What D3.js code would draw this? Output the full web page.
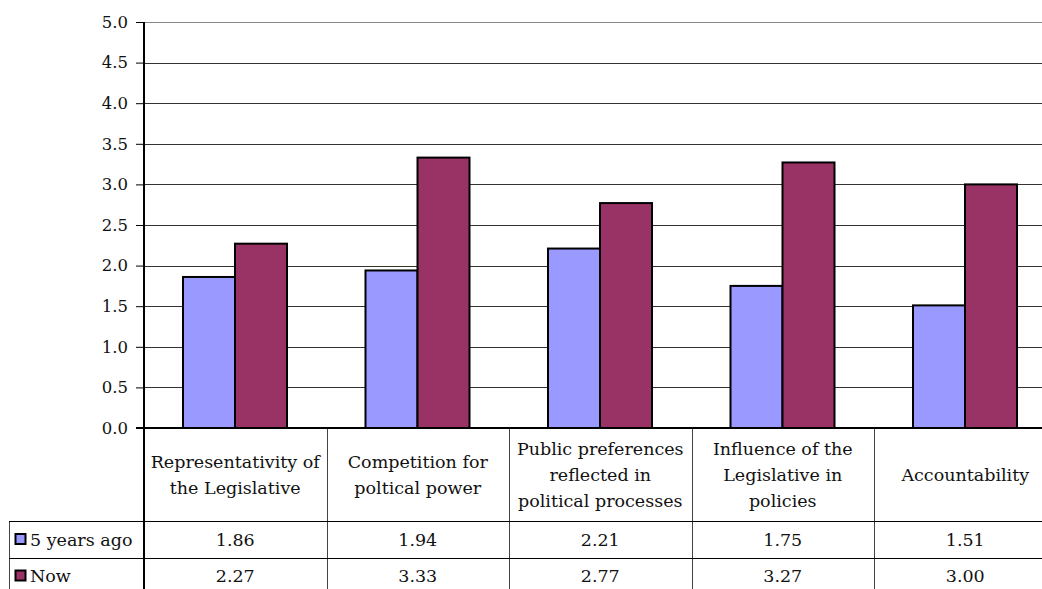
<!DOCTYPE html>
<html>
<head>
<meta charset="utf-8">
<script src="https://cdn.jsdelivr.net/npm/d3@7"></script>
<style>
  body { margin: 0; background: #fff; }
  svg { display: block; }
</style>
</head>
<body>
<script>
const categories = [
  ["Representativity of", "the Legislative"],
  ["Competition for", "poltical power"],
  ["Public preferences", "reflected in", "political processes"],
  ["Influence of the", "Legislative in", "policies"],
  ["Accountability"]
];
const seriesNames = ["5 years ago", "Now"];
const fiveYearsAgo = [1.86, 1.94, 2.21, 1.75, 1.51];
const now = [2.27, 3.33, 2.77, 3.27, 3.00];
const yTicks = [0, 0.5, 1, 1.5, 2, 2.5, 3, 3.5, 4, 4.5, 5];

const width = 1042, height = 589;
const M = { left: 144, top: 22, axisY: 428 };
const CAT_W = 182.5;
const HEADER_BOTTOM = 521, ROW1_BOTTOM = 558;
const TABLE_LEFT = 9;
const FONT = "'Palatino Linotype', 'Book Antiqua', Palatino, 'DejaVu Serif', serif";
const TABLE_FONT_SIZE = 17.5;
const COLORS = ["#9999FF", "#993366"];

const series = [fiveYearsAgo, now];
const idx = d3.range(categories.length);

const svg = d3.select("body").append("svg")
  .attr("width", width)
  .attr("height", height)
  .style("font-family", FONT);

const x0 = d3.scaleBand()
  .domain(idx)
  .range([M.left, M.left + CAT_W * categories.length]);

const x1 = d3.scaleBand()
  .domain(d3.range(series.length))
  .range([39, 39 + 104]);

const y = d3.scaleLinear()
  .domain([0, 5])
  .range([M.axisY, M.top]);

// gridlines
svg.append("g")
  .selectAll("line")
  .data(yTicks.filter(d => d > 0))
  .join("line")
  .attr("x1", M.left)
  .attr("x2", width)
  .attr("y1", d => Math.round(y(d)) + 0.5)
  .attr("y2", d => Math.round(y(d)) + 0.5)
  .attr("stroke", d => d === 5 ? "#888" : "#333")
  .attr("stroke-width", 1);

// bars
svg.append("g")
  .selectAll("g")
  .data(series)
  .join("g")
  .attr("fill", (d, i) => COLORS[i])
  .selectAll("rect")
  .data((vals, si) => vals.map((v, ci) => ({ v, ci, si })))
  .join("rect")
  .attr("x", d => x0(d.ci) + x1(d.si))
  .attr("y", d => y(d.v))
  .attr("width", x1.bandwidth())
  .attr("height", d => y(0) - y(d.v))
  .attr("stroke", "#000")
  .attr("stroke-width", 2);

// y axis
const yAxis = d3.axisLeft(y)
  .tickValues(yTicks)
  .tickFormat(d3.format(".1f"))
  .tickSizeInner(8)
  .tickSizeOuter(0)
  .tickPadding(8);

const yAxisGroup = svg.append("g")
  .attr("transform", `translate(${M.left},0)`)
  .call(yAxis);
yAxisGroup.select(".domain").remove();
yAxisGroup.selectAll(".tick line").attr("stroke", "#000");
yAxisGroup.selectAll(".tick text")
  .attr("fill", "#111")
  .style("font-family", FONT)
  .style("font-size", "16.5px");

// table lines
const tbl = svg.append("g").attr("stroke", "#000").attr("stroke-width", 1);
const colEdges = idx.map(i => x0(i)).concat([x0.range()[1]]);
tbl.selectAll("line.v")
  .data(colEdges.slice(1))
  .join("line")
  .attr("class", "v")
  .attr("x1", d => Math.round(d) + 0.5)
  .attr("x2", d => Math.round(d) + 0.5)
  .attr("y1", M.axisY)
  .attr("y2", height)
  .attr("stroke", "#444");
tbl.append("line")
  .attr("x1", TABLE_LEFT + 0.5).attr("x2", TABLE_LEFT + 0.5)
  .attr("y1", HEADER_BOTTOM).attr("y2", height)
  .attr("stroke", "#444");
tbl.selectAll("line.h")
  .data([HEADER_BOTTOM, ROW1_BOTTOM])
  .join("line")
  .attr("class", "h")
  .attr("x1", TABLE_LEFT)
  .attr("x2", width)
  .attr("y1", d => d + 0.5)
  .attr("y2", d => d + 0.5);

// y axis line + x axis line
svg.append("line")
  .attr("x1", M.left).attr("x2", M.left)
  .attr("y1", M.top).attr("y2", height)
  .attr("stroke", "#000").attr("stroke-width", 2);
svg.append("line")
  .attr("x1", M.left - 8).attr("x2", width)
  .attr("y1", y(0)).attr("y2", y(0))
  .attr("stroke", "#000").attr("stroke-width", 2);

// category headers
const LINE_H = 26;
const headerMid = (M.axisY + HEADER_BOTTOM) / 2;
svg.append("g")
  .selectAll("text")
  .data(categories)
  .join("text")
  .attr("text-anchor", "middle")
  .attr("font-size", TABLE_FONT_SIZE)
  .attr("fill", "#111")
  .each(function (lines, i) {
    const t = d3.select(this);
    const cx = x0(i) + x0.bandwidth() / 2;
    const top = headerMid - (lines.length - 1) * LINE_H / 2;
    lines.forEach((ln, k) => {
      t.append("tspan")
        .attr("x", cx)
        .attr("y", top + k * LINE_H)
        .attr("dy", "0.35em")
        .text(ln);
    });
  });

// data rows
const rowMids = [(HEADER_BOTTOM + ROW1_BOTTOM) / 2, ROW1_BOTTOM + 18];
series.forEach((vals, si) => {
  const row = svg.append("g");
  row.append("rect")
    .attr("x", 15.5)
    .attr("y", rowMids[si] - 5.5)
    .attr("width", 10)
    .attr("height", 10)
    .attr("fill", COLORS[si])
    .attr("stroke", "#000")
    .attr("stroke-width", 2);
  row.append("text")
    .attr("x", 30)
    .attr("y", rowMids[si])
    .attr("dy", "0.35em")
    .attr("font-size", TABLE_FONT_SIZE)
    .attr("fill", "#111")
    .text(seriesNames[si]);
  row.selectAll("text.val")
    .data(vals)
    .join("text")
    .attr("class", "val")
    .attr("x", (d, i) => x0(i) + x0.bandwidth() / 2)
    .attr("y", rowMids[si])
    .attr("dy", "0.35em")
    .attr("text-anchor", "middle")
    .attr("font-size", TABLE_FONT_SIZE)
    .attr("fill", "#111")
    .text(d => d.toFixed(2));
});
</script>
</body>
</html>
